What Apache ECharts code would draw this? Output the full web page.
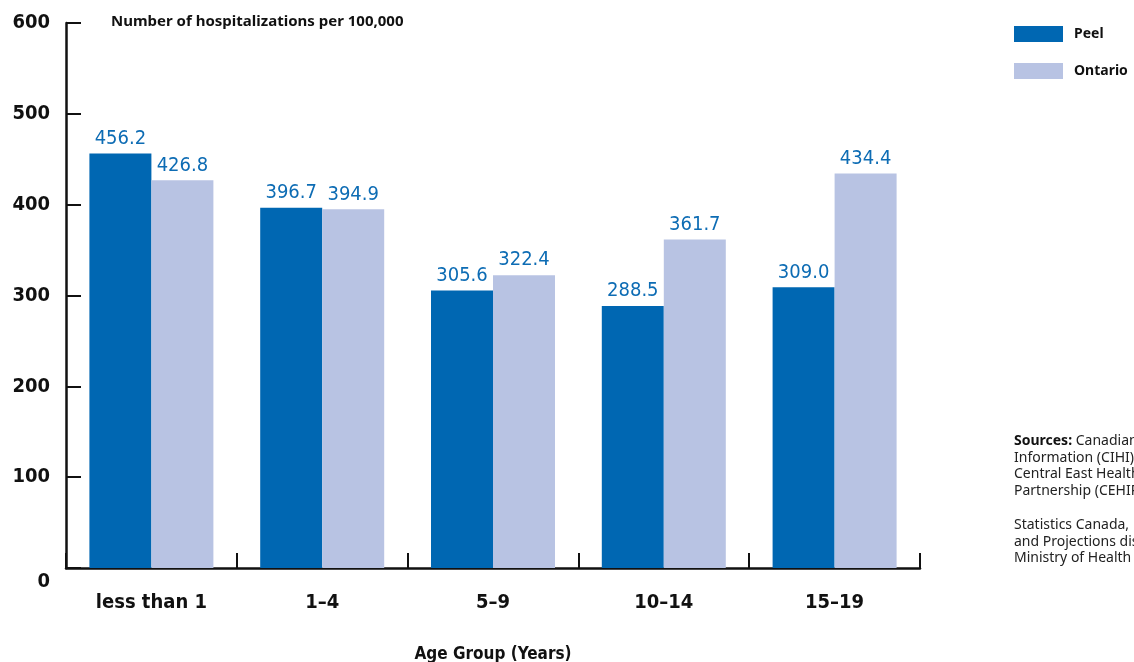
<!DOCTYPE html>
<html>
<head>
<meta charset="utf-8">
<script src="https://cdn.jsdelivr.net/npm/echarts@6/dist/echarts.min.js"></script>
<style>
  html, body { margin: 0; padding: 0; background: #fff; }
  #chart { width: 1134px; height: 662px; }
</style>
</head>
<body>
<div id="chart"></div>
<script>
// age groups and rates per 100,000
var categories = ['less than 1', '1\u20134', '5\u20139', '10\u201314', '15\u201319'];
var peelValues = [456.2, 396.7, 305.6, 288.5, 309.0];
var ontarioValues = [426.8, 394.9, 322.4, 361.7, 434.4];
var seriesNames = ['Peel', 'Ontario'];
var yTicks = [0, 100, 200, 300, 400, 500, 600];

var narrow = "'Liberation Sans Narrow', 'DejaVu Sans Condensed', sans-serif";
var humanist = "'Noto Sans', 'Open Sans', sans-serif";

var chart = echarts.init(document.getElementById('chart'));

var valueLabel = {
  show: true,
  position: 'top',
  distance: 5,
  color: '#0d6cb4',
  fontFamily: narrow,
  fontSize: 20,
  formatter: function (p) { return p.value.toFixed(1); }
};

chart.setOption({
  animation: false,
  title: {
    text: 'Number of hospitalizations per 100,000',
    left: 106,
    top: 9,
    textStyle: { fontFamily: humanist, fontSize: 15, fontWeight: 'bold', color: '#111' }
  },
  legend: {
    data: seriesNames,
    orient: 'vertical',
    left: 1009,
    top: 21,
    itemWidth: 49,
    itemHeight: 16,
    itemGap: 21,
    icon: 'rect',
    textStyle: { fontFamily: humanist, fontSize: 14, fontWeight: 'bold', color: '#111', padding: [0, 0, 0, 6] }
  },
  grid: { left: 66, right: 214, top: 23, bottom: 94, outerBoundsMode: 'none', containLabel: false },
  xAxis: {
    type: 'category',
    data: categories,
    name: 'Age Group (Years)',
    nameLocation: 'middle',
    nameGap: 78,
    nameTextStyle: { fontFamily: narrow, fontSize: 17, fontWeight: 'bold', color: '#111' },
    axisLine: { lineStyle: { color: '#111', width: 2.5 } },
    axisTick: { show: true, inside: true, length: 15, lineStyle: { color: '#111', width: 2 } },
    axisLabel: { interval: 0, margin: 25, fontFamily: narrow, fontSize: 20, fontWeight: 'bold', color: '#111' }
  },
  yAxis: {
    type: 'value',
    min: yTicks[0],
    max: yTicks[yTicks.length - 1],
    interval: 100,
    axisLine: { show: true, lineStyle: { color: '#111', width: 2.5 } },
    axisTick: { show: true, inside: true, length: 15, lineStyle: { color: '#111', width: 2 } },
    splitLine: { show: false },
    axisLabel: {
      margin: 16,
      fontFamily: narrow,
      fontSize: 20,
      fontWeight: 'bold',
      color: '#111',
      // the zero label sits a little below the axis line
      formatter: function (v) { return v === 0 ? '{z|0}' : String(v); },
      rich: {
        z: { padding: [28, 0, 0, 0], fontFamily: narrow, fontSize: 20, fontWeight: 'bold', color: '#111' }
      }
    }
  },
  series: [
    {
      name: seriesNames[0],
      type: 'bar',
      data: peelValues,
      barWidth: 62,
      barGap: '0%',
      itemStyle: { color: '#0067b2' },
      label: valueLabel
    },
    {
      name: seriesNames[1],
      type: 'bar',
      data: ontarioValues,
      barWidth: 62,
      barGap: '0%',
      itemStyle: { color: '#b8c3e3' },
      label: valueLabel
    }
  ],
  graphic: [
    {
      type: 'text',
      left: 1014,
      top: 433,
      style: {
        text: '{b|Sources:} Canadian Institute for Health\nInformation (CIHI), Discharge Abstract\nCentral East Health Information\nPartnership (CEHIP), 2003\u20132005',
        fontFamily: humanist,
        fontSize: 14,
        lineHeight: 16.5,
        fill: '#222',
        rich: { b: { fontFamily: humanist, fontSize: 14, fontWeight: 'bold', fill: '#111' } }
      }
    },
    {
      type: 'text',
      left: 1014,
      top: 517,
      style: {
        text: 'Statistics Canada, Demography Division\nand Projections distributed by Ontario\nMinistry of Health and Long-Term Care',
        fontFamily: humanist,
        fontSize: 14,
        lineHeight: 16.5,
        fill: '#222'
      }
    }
  ]
});
</script>
</body>
</html>
